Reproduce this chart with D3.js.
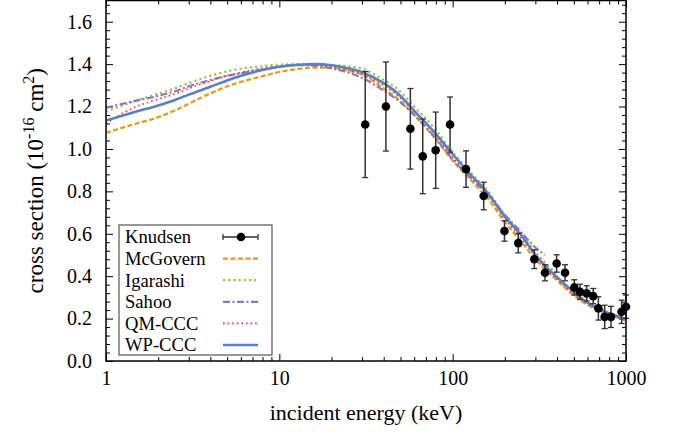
<!DOCTYPE html>
<html><head><meta charset="utf-8">
<script src="https://cdn.jsdelivr.net/npm/d3@7"></script>
<style>
body{margin:0;background:#fff}
svg{display:block}
svg text{font-family:"Liberation Serif","Tinos","Times New Roman","DejaVu Serif",serif !important;fill:#000}
</style>
</head><body>
<svg id="c" width="677" height="434"></svg>
<script>
// ---- data ----
const knudsenE   = [31.3, 41.2, 57, 67.2, 79.8, 96.6, 119.4, 151, 199, 239, 296, 341, 398, 445, 503, 543, 593, 647, 693, 753, 819, 943, 1000];
const knudsenSig = [1.115, 1.20, 1.095, 0.965, 0.994, 1.115, 0.905, 0.778, 0.613, 0.556, 0.480, 0.416, 0.460, 0.416, 0.347, 0.326, 0.319, 0.306, 0.248, 0.208, 0.208, 0.232, 0.256];
const knudsenErr = [0.25, 0.21, 0.19, 0.176, 0.18, 0.13, 0.086, 0.065, 0.048, 0.046, 0.044, 0.038, 0.041, 0.038, 0.036, 0.036, 0.036, 0.036, 0.055, 0.055, 0.05, 0.055, 0.055];

const mcgovernE   = [1, 1.5, 2, 2.5, 3, 4, 5, 6, 8, 10, 13, 16, 20, 25, 30, 40, 50, 60, 80, 100, 130, 160, 200, 250, 300, 400, 500, 600, 800, 1000];
const mcgovernSig = [1.076, 1.12, 1.15, 1.182, 1.213, 1.262, 1.295, 1.316, 1.343, 1.363, 1.378, 1.384, 1.382, 1.37, 1.35, 1.285, 1.225, 1.16, 1.045, 0.945, 0.845, 0.765, 0.655, 0.56, 0.48, 0.38, 0.31, 0.265, 0.22, 0.19];

const igarashiE   = [1, 1.5, 2, 2.5, 3, 4, 5, 6, 8, 10, 13, 16, 20, 25, 30, 40, 50, 60, 80, 100, 130, 160, 200, 250, 300, 400];
const igarashiSig = [1.176, 1.228, 1.26, 1.286, 1.31, 1.345, 1.366, 1.378, 1.39, 1.398, 1.40, 1.398, 1.395, 1.39, 1.378, 1.325, 1.27, 1.20, 1.09, 0.985, 0.88, 0.80, 0.69, 0.60, 0.515, 0.41];

const sahooE   = [1, 1.5, 2, 2.5, 3, 4, 5, 6, 8, 10, 13, 16, 20, 25, 30, 40, 50, 60, 80, 100, 130, 160, 200, 250, 300, 340];
const sahooSig = [1.194, 1.228, 1.25, 1.272, 1.295, 1.325, 1.345, 1.357, 1.375, 1.388, 1.395, 1.393, 1.38, 1.36, 1.335, 1.275, 1.22, 1.16, 1.05, 0.95, 0.855, 0.785, 0.69, 0.605, 0.535, 0.50];

const qmcccE   = [1, 1.25, 1.5, 2, 2.5, 3, 4, 5, 6, 8, 10, 13, 16, 20, 25, 30, 40, 50, 60, 80, 100, 130, 160, 200, 250, 300, 400, 500, 600, 800, 1000];
const qmcccSig = [1.119, 1.168, 1.2, 1.235, 1.26, 1.285, 1.32, 1.345, 1.36, 1.38, 1.39, 1.398, 1.396, 1.388, 1.372, 1.352, 1.30, 1.24, 1.175, 1.065, 0.96, 0.86, 0.78, 0.67, 0.575, 0.495, 0.385, 0.315, 0.27, 0.22, 0.195];

const wpcccE   = [1, 1.5, 2, 2.5, 3, 4, 5, 6, 8, 10, 13, 16, 20, 25, 30, 40, 50, 60, 80, 100, 130, 160, 200, 250, 300, 400, 500, 600, 800, 1000];
const wpcccSig = [1.134, 1.176, 1.205, 1.231, 1.256, 1.293, 1.323, 1.345, 1.372, 1.388, 1.397, 1.40, 1.395, 1.38, 1.362, 1.31, 1.25, 1.18, 1.07, 0.975, 0.87, 0.79, 0.68, 0.59, 0.50, 0.395, 0.325, 0.275, 0.225, 0.198];

const xTickValues = [1, 10, 100, 1000];
const xTickLabels = ["1", "10", "100", "1000"];
const yTickValues = [0, 0.2, 0.4, 0.6, 0.8, 1.0, 1.2, 1.4, 1.6];

const legendNames = ["Knudsen", "McGovern", "Igarashi", "Sahoo", "QM-CCC", "WP-CCC"];

// ---- layout ----
const FONT = "Liberation Serif, Tinos, Times New Roman, DejaVu Serif, serif";
const svg = d3.select("#c");
const L = 106, R = 626, T = 0.5, B = 361;
const x = d3.scaleLog().domain([1, 1000]).range([L, R]);
const y = d3.scaleLinear().domain([0, 1.7]).range([B, T]);

const styles = {
  "McGovern": {color: "#e69a1e", width: 2.3, dash: "5,2.5"},
  "Igarashi": {color: "#8fbf3a", width: 2.2, dash: "2,3.2"},
  "Sahoo":    {color: "#8a78c0", width: 2.2, dash: "7,2.5,2,2.5"},
  "QM-CCC":   {color: "#ff2d2d", width: 1.6, dash: "1.6,3"},
  "WP-CCC":   {color: "#5a80c0", width: 2.6, dash: null}
};

const xMinor = [];
[1, 10, 100].forEach(d => { for (let k = 2; k <= 9; k++) xMinor.push(d * k); });
const yMinor = d3.range(0, 1.7001, 0.04).map(v => +v.toFixed(2)).filter(v => Math.abs(v / 0.2 - Math.round(v / 0.2)) > 1e-6);

const gAx = svg.append("g");
gAx.append("g").attr("transform", `translate(0,${B})`)
  .call(d3.axisBottom(x).tickValues(xTickValues).tickFormat((d, i) => xTickLabels[i]).tickSize(-7).tickPadding(10))
  .call(g => g.select(".domain").remove())
  .call(g => g.attr("font-family", FONT).attr("font-size", 20));
gAx.append("g").attr("transform", `translate(0,${B})`)
  .call(d3.axisBottom(x).tickValues(xMinor).tickFormat("").tickSize(-4))
  .call(g => g.select(".domain").remove());
gAx.append("g").attr("transform", `translate(0,${T})`)
  .call(d3.axisTop(x).tickValues(xTickValues).tickFormat("").tickSize(-7))
  .call(g => g.select(".domain").remove());
gAx.append("g").attr("transform", `translate(0,${T})`)
  .call(d3.axisTop(x).tickValues(xMinor).tickFormat("").tickSize(-4))
  .call(g => g.select(".domain").remove());
gAx.append("g").attr("transform", `translate(${L},0)`)
  .call(d3.axisLeft(y).tickValues(yTickValues).tickFormat(d3.format(".1f")).tickSize(-7).tickPadding(14))
  .call(g => g.select(".domain").remove())
  .call(g => g.attr("font-family", FONT).attr("font-size", 20));
gAx.append("g").attr("transform", `translate(${L},0)`)
  .call(d3.axisLeft(y).tickValues(yMinor).tickFormat("").tickSize(-4))
  .call(g => g.select(".domain").remove());
gAx.append("g").attr("transform", `translate(${R},0)`)
  .call(d3.axisRight(y).tickValues(yTickValues).tickFormat("").tickSize(-7))
  .call(g => g.select(".domain").remove());
gAx.append("g").attr("transform", `translate(${R},0)`)
  .call(d3.axisRight(y).tickValues(yMinor).tickFormat("").tickSize(-4))
  .call(g => g.select(".domain").remove());
gAx.selectAll(".tick line").attr("stroke", "#000").attr("stroke-width", 1);

svg.append("clipPath").attr("id", "clip").append("rect").attr("x", L).attr("y", T).attr("width", R - L).attr("height", B - T);
const plot = svg.append("g").attr("clip-path", "url(#clip)");
const line = d3.line().x(d => x(d[0])).y(d => y(d[1])).curve(d3.curveMonotoneX);

const series = [
  ["McGovern", mcgovernE, mcgovernSig],
  ["Igarashi", igarashiE, igarashiSig],
  ["Sahoo", sahooE, sahooSig],
  ["QM-CCC", qmcccE, qmcccSig],
  ["WP-CCC", wpcccE, wpcccSig]
];

const kn = knudsenE.map((e, i) => ({e, s: knudsenSig[i], err: knudsenErr[i]}));
const eg = svg.append("g");
kn.forEach(d => {
  const px = x(d.e);
  eg.append("line").attr("x1", px).attr("x2", px).attr("y1", y(d.s - d.err)).attr("y2", y(d.s + d.err)).attr("stroke", "#333").attr("stroke-width", 1.5);
  [d.s - d.err, d.s + d.err].forEach(v => {
    eg.append("line").attr("x1", px - 3).attr("x2", px + 3).attr("y1", y(v)).attr("y2", y(v)).attr("stroke", "#333").attr("stroke-width", 1.3);
  });
});
eg.selectAll("circle").data(kn).join("circle")
  .attr("cx", d => x(d.e)).attr("cy", d => y(d.s)).attr("r", 4.3).attr("fill", "#000");

series.forEach(([name, es, ss]) => {
  const st = styles[name];
  plot.append("path").datum(es.map((e, i) => [e, ss[i]]))
    .attr("d", line).attr("fill", "none").attr("stroke", st.color)
    .attr("stroke-width", st.width).attr("stroke-dasharray", st.dash);
});

svg.append("rect").attr("x", L).attr("y", T).attr("width", R - L).attr("height", B - T)
  .attr("fill", "none").attr("stroke", "#000").attr("stroke-width", 1.5);

svg.append("text").attr("x", (L + R) / 2).attr("y", 420).attr("text-anchor", "middle")
  .attr("font-family", FONT).attr("font-size", 22).text("incident energy (keV)");
const yt = svg.append("text").attr("transform", `translate(43,${(T + B) / 2}) rotate(-90)`)
  .attr("text-anchor", "middle").attr("font-family", FONT).attr("font-size", 23);
yt.append("tspan").text("cross section (10");
yt.append("tspan").attr("font-size", 16).attr("dy", -9).text("-16");
yt.append("tspan").attr("dy", 9).text(" cm");
yt.append("tspan").attr("font-size", 16).attr("dy", -9).text("2");
yt.append("tspan").attr("dy", 9).text(")");

const lg = svg.append("g");
lg.append("rect").attr("x", 119).attr("y", 225).attr("width", 153).attr("height", 130)
  .attr("fill", "#fff").attr("stroke", "#333").attr("stroke-width", 1);
const rowY = i => 237 + i * 21.6;
legendNames.forEach((n, i) => {
  lg.append("text").attr("x", 125).attr("y", rowY(i)).attr("dy", "0.34em")
    .attr("font-family", FONT).attr("font-size", 18.6).text(n);
  if (i === 0) {
    lg.append("line").attr("x1", 223).attr("x2", 258).attr("y1", rowY(i)).attr("y2", rowY(i)).attr("stroke", "#333").attr("stroke-width", 1.5);
    [223, 258].forEach(cx => lg.append("line").attr("x1", cx).attr("x2", cx).attr("y1", rowY(i) - 3).attr("y2", rowY(i) + 3).attr("stroke", "#333").attr("stroke-width", 1.3));
    lg.append("circle").attr("cx", 241).attr("cy", rowY(i)).attr("r", 4.3).attr("fill", "#000");
  } else {
    const st = styles[n];
    lg.append("line").attr("x1", 223).attr("x2", 258).attr("y1", rowY(i)).attr("y2", rowY(i))
      .attr("stroke", st.color).attr("stroke-width", st.width).attr("stroke-dasharray", st.dash);
  }
});
</script>
</body></html>
